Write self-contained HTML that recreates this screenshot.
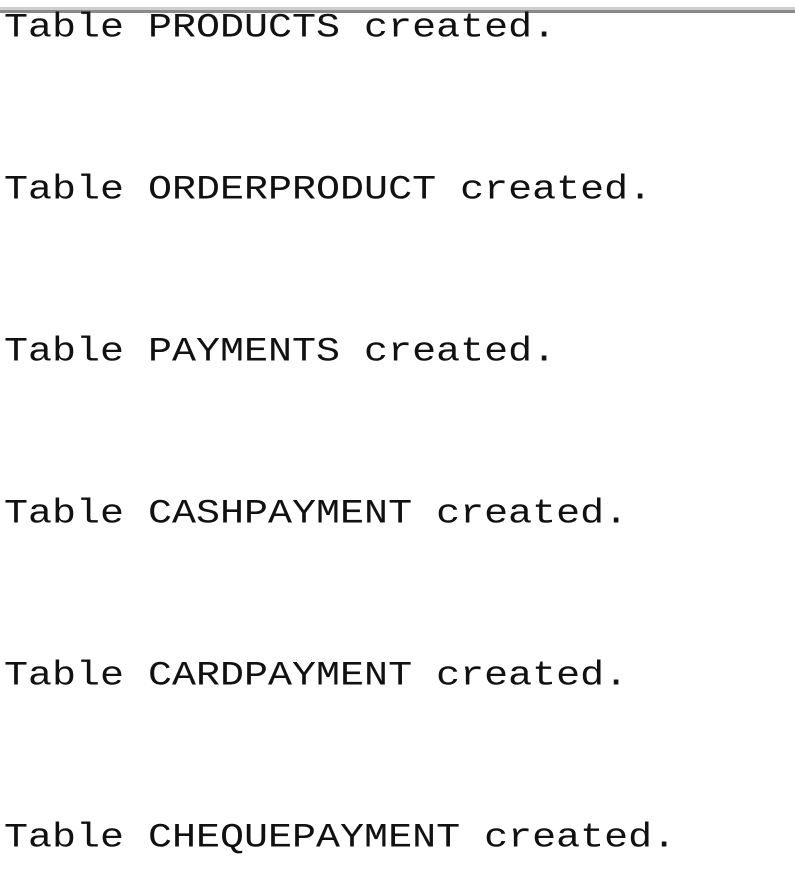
<!DOCTYPE html>
<html><head><style>
html,body{margin:0;padding:0;background:#fff;width:795px;height:894px;overflow:hidden;position:relative}
.bar1{position:absolute;left:0;top:7px;width:795px;height:3px;background:#cfcfcf}
.bar2{position:absolute;left:0;top:10px;width:795px;height:3px;background:#8a8a8a}
.t{position:absolute;left:4px;font-family:"Liberation Mono",monospace;font-size:40px;line-height:40px;color:#111;white-space:pre;transform:scaleY(0.85);transform-origin:0 100%}
</style></head><body>
<div class="bar1"></div><div class="bar2"></div>
<div class="t" style="top:6px">Table PRODUCTS created.</div>
<div class="t" style="top:168px">Table ORDERPRODUCT created.</div>
<div class="t" style="top:330px">Table PAYMENTS created.</div>
<div class="t" style="top:492px">Table CASHPAYMENT created.</div>
<div class="t" style="top:654px">Table CARDPAYMENT created.</div>
<div class="t" style="top:816px">Table CHEQUEPAYMENT created.</div>
</body></html>
